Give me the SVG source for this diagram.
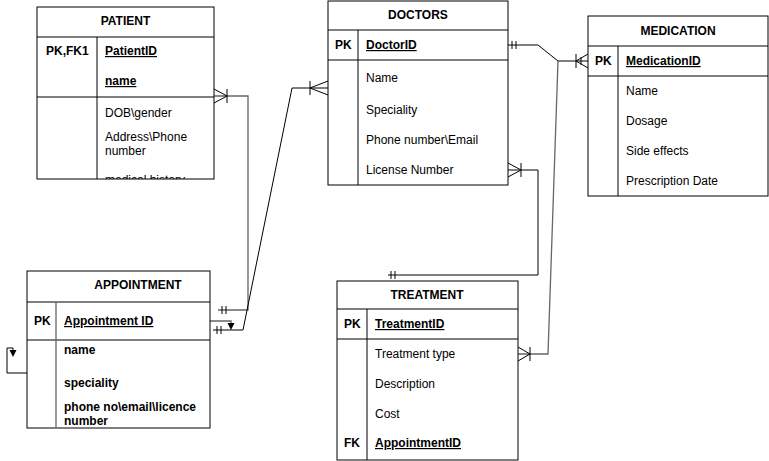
<svg xmlns="http://www.w3.org/2000/svg" width="769" height="461" viewBox="0 0 769 461">
<style>
text{font-family:"Liberation Sans",Arial,sans-serif;font-size:12px;fill:#000}
.h{font-weight:bold;text-anchor:middle}
.b{font-weight:bold}
.u{font-weight:bold;text-decoration:underline}
.box{fill:#fff;stroke:#000;stroke-width:1}
.ln{stroke:#000;stroke-width:1;fill:none}
.gl{stroke:#666;stroke-width:1.3;fill:none}
.c{stroke:#000;stroke-width:1;fill:none}
</style>
<defs>
<clipPath id="pc"><rect x="37" y="97" width="177" height="82"/></clipPath>
</defs>
<g id="connectors">
<!-- PATIENT - APPOINTMENT -->
<path class="gl" d="M214,96 H248 V310 H218"/>
<path class="c" d="M214,89 L227,96 L214,103 M227,89 V103"/>
<path class="c" d="M222,306 V314 M226,306 V314"/>
<!-- DOCTORS - APPOINTMENT -->
<path class="c" d="M328,88 H292 L243,330 H213"/>
<path class="c" d="M328,81 L310,88 L328,95 M310,81 V95"/>
<path class="c" d="M217,326 V334 M221,326 V334"/>
<path class="gl" d="M210,321 H231 V324"/>
<path d="M227.5,323 H234.5 L231,330 Z" fill="#000"/>
<!-- self loop APPOINTMENT -->
<path class="c" d="M27,373 H7 V348 H13 V351"/>
<path d="M9.5,350 H16.5 L13,357 Z" fill="#000"/>
<!-- DOCTORS - MEDICATION -->
<path class="c" d="M508,45 H538 L558,61 H588"/>
<path class="c" d="M512,41 V49 M516,41 V49"/>
<path class="c" d="M588,54 L576,61 L588,68 M576,54 V68 M581,57 V65"/>
<!-- MEDICATION junction - TREATMENT -->
<path class="gl" d="M558,61 L548,354 H518"/>
<path class="c" d="M518,347 L530,354 L518,361 M530,347 V361"/>
<!-- DOCTORS - TREATMENT -->
<path class="c" d="M508,170 H538 V275 H388"/>
<path class="c" d="M508,163 L521,170 L508,177 M521,163 V177"/>
<path class="c" d="M391,271 V279 M395,271 V279"/>
</g>
<g id="patient">
<rect class="box" x="37" y="7" width="177" height="172"/>
<path class="ln" d="M37,37 H214 M37,97 H214 M97,37 V179"/>
<text class="h" x="125.5" y="25">PATIENT</text>
<text class="b" x="46" y="55">PK,FK1</text>
<text class="u" x="105" y="55">PatientID</text>
<text class="u" x="105" y="85">name</text>
<text x="105" y="117">DOB\gender</text>
<text x="105" y="141">Address\Phone</text>
<text x="105" y="155">number</text>
<g clip-path="url(#pc)"><text x="105" y="184">medical history</text></g>
</g>
<g id="doctors">
<rect class="box" x="328" y="1" width="180" height="184"/>
<path class="ln" d="M328,30 H508 M328,60 H508 M358,30 V185"/>
<text class="h" x="418" y="19">DOCTORS</text>
<text class="b" x="335" y="49">PK</text>
<text class="u" x="366" y="49">DoctorID</text>
<text x="366" y="82">Name</text>
<text x="366" y="114">Speciality</text>
<text x="366" y="144">Phone number\Email</text>
<text x="366" y="174">License Number</text>
</g>
<g id="medication">
<rect class="box" x="588" y="16" width="180" height="180"/>
<path class="ln" d="M588,46 H768 M588,76 H768 M618,46 V196"/>
<text class="h" x="678" y="35">MEDICATION</text>
<text class="b" x="595" y="65">PK</text>
<text class="u" x="626" y="65">MedicationID</text>
<text x="626" y="95">Name</text>
<text x="626" y="125">Dosage</text>
<text x="626" y="155">Side effects</text>
<text x="626" y="185">Prescription Date</text>
</g>
<g id="appointment">
<rect class="box" x="27" y="271" width="183" height="157"/>
<path class="ln" d="M27,302 H210 M27,340 H210"/>
<path class="gl" d="M56,302 V428"/>
<text class="h" x="138" y="289">APPOINTMENT</text>
<text class="b" x="34" y="325">PK</text>
<text class="u" x="64" y="325">Appointment ID</text>
<text class="b" x="64" y="354">name</text>
<text class="b" x="64" y="387">speciality</text>
<text class="b" x="64" y="411">phone no\email\licence</text>
<text class="b" x="64" y="425">number</text>
</g>
<g id="treatment">
<rect class="box" x="337" y="281" width="181" height="179"/>
<path class="ln" d="M337,309 H518 M337,339 H518 M367,309 V460"/>
<text class="h" x="427" y="299">TREATMENT</text>
<text class="b" x="344" y="328">PK</text>
<text class="u" x="375" y="328">TreatmentID</text>
<text x="375" y="358">Treatment type</text>
<text x="375" y="388">Description</text>
<text x="375" y="418">Cost</text>
<text class="b" x="344" y="447">FK</text>
<text class="u" x="375" y="447">AppointmentID</text>
</g>
</svg>
